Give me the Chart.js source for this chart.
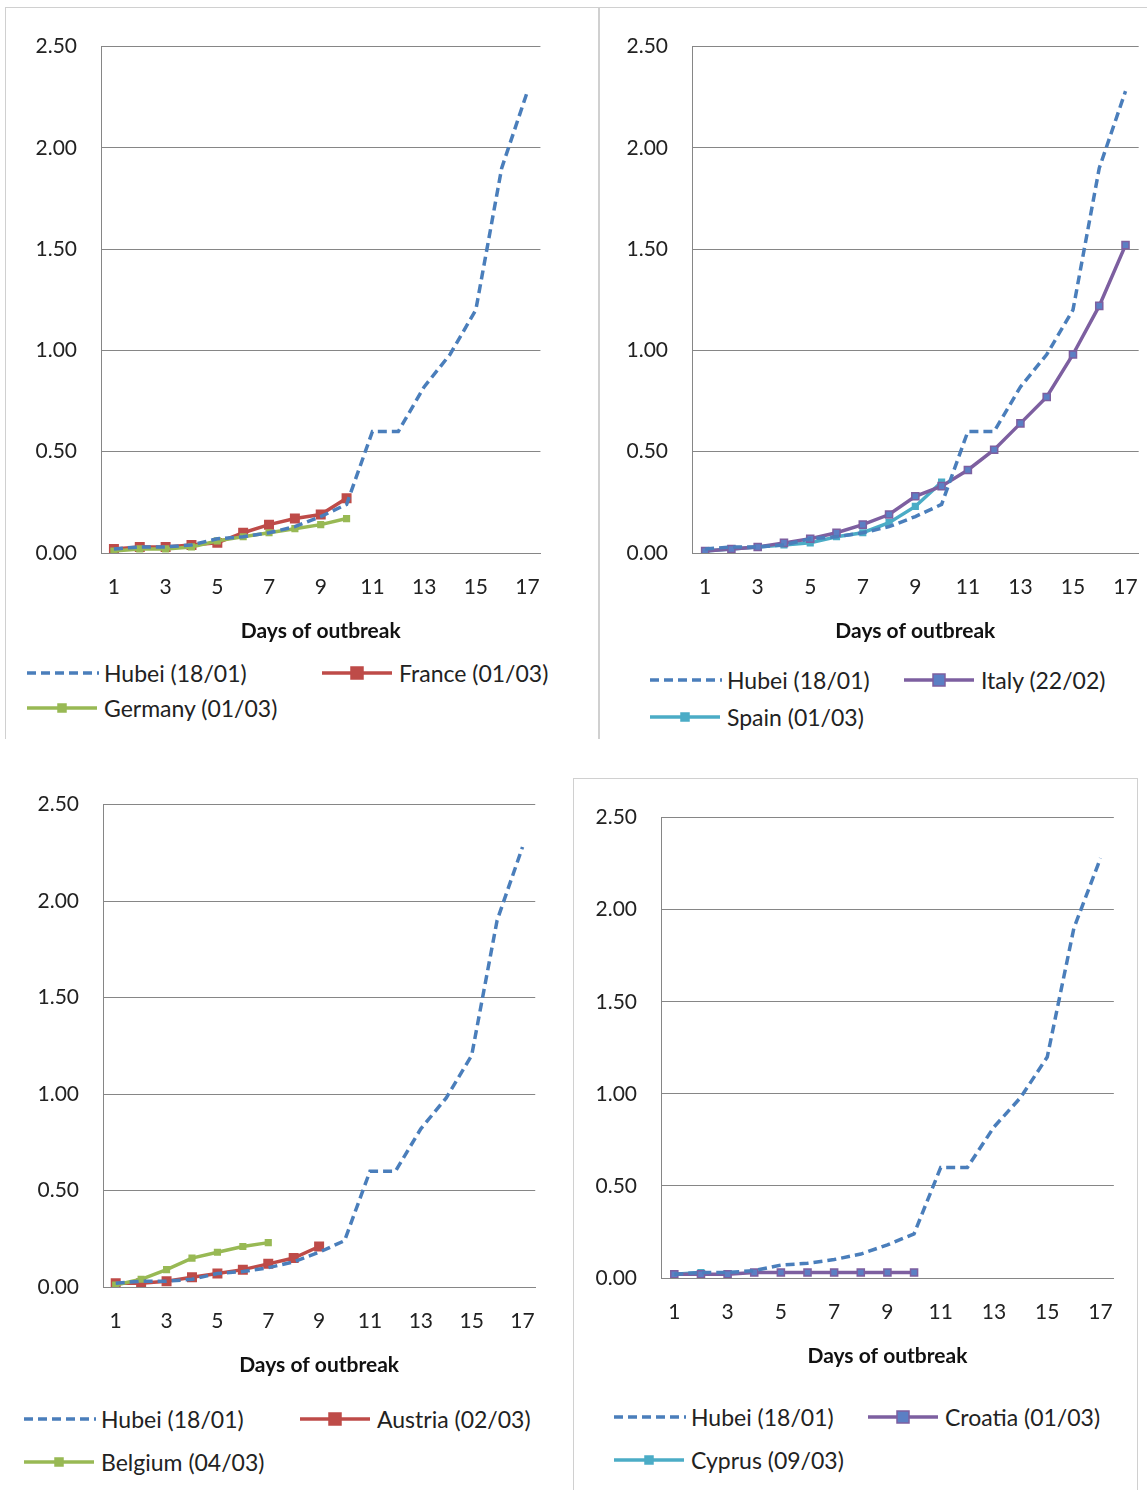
<!DOCTYPE html>
<html><head><meta charset="utf-8">
<script src="https://cdn.jsdelivr.net/npm/chart.js@4"></script>
<style>
body{margin:0;background:#fff;width:1147px;height:1490px;position:relative;overflow:hidden;font-family:Lato,"Open Sans",sans-serif}
canvas{position:absolute}
.leg{position:absolute;font-size:23px;color:#222;white-space:nowrap;line-height:26px}
.leg svg{position:absolute;top:0}
.box{position:absolute;border:1px solid #d0d0d0}
</style></head><body>
<div class="box" style="left:5px;top:7px;width:593px;height:731px;border-bottom:none"></div>
<div class="box" style="left:598px;top:7px;width:549px;height:731px;border-bottom:none;border-right:none"></div>
<div class="box" style="left:573px;top:778px;width:563px;height:712px;border-bottom:none"></div>
<canvas id="c1"></canvas><canvas id="c2"></canvas><canvas id="c3"></canvas><canvas id="c4"></canvas>
<script>
const days = ['1','2','3','4','5','6','7','8','9','10','11','12','13','14','15','16','17'];
const yTicks = [0, 0.5, 1, 1.5, 2, 2.5];
const hubei = [0.02,0.03,0.03,0.04,0.07,0.08,0.10,0.13,0.18,0.24,0.60,0.60,0.82,0.98,1.20,1.90,2.28];
const france = [0.02,0.03,0.03,0.04,0.05,0.10,0.14,0.17,0.19,0.27];
const germany = [0.01,0.02,0.02,0.03,0.06,0.08,0.10,0.12,0.14,0.17];
const italy = [0.01,0.02,0.03,0.05,0.07,0.10,0.14,0.19,0.28,0.33,0.41,0.51,0.64,0.77,0.98,1.22,1.52];
const spain = [0.01,0.02,0.03,0.04,0.05,0.08,0.10,0.15,0.23,0.35];
const austria = [0.02,0.02,0.03,0.05,0.07,0.09,0.12,0.15,0.21];
const belgium = [0.01,0.04,0.09,0.15,0.18,0.21,0.23];
const croatia = [0.02,0.02,0.02,0.03,0.03,0.03,0.03,0.03,0.03,0.03];
const cyprus = [0.02,0.03];

const BLUE = '#4a7ebb', RED = '#be4b48', GREEN = '#98b954', PURPLE = '#7d5fa0', CYAN = '#4bacc6';
const FONT = 'Lato, "Open Sans", sans-serif';

function hubeiSet(){
  return {data: hubei, borderColor: BLUE, borderWidth: 3.5, borderDash: [9, 5], pointRadius: 0, tension: 0};
}
function set(data, color, r, fill){
  return {data: data, borderColor: color, borderWidth: 3.5, pointStyle: 'rect', pointRadius: r,
    pointBackgroundColor: fill || color, pointBorderColor: color, pointBorderWidth: 1.5, tension: 0};
}

function makeChart(id, box, sets){
  // box: plot area left/top/right/bottom in page px
  const el = document.getElementById(id);
  const left = box.l - 80, top = box.t - 34;
  const w = box.r - left + 14, h = box.b - top + 95;
  el.style.left = left + 'px'; el.style.top = top + 'px';
  el.style.width = w + 'px'; el.style.height = h + 'px';
  el.width = w; el.height = h;
  new Chart(el, {
    type: 'line',
    data: {labels: days, datasets: sets},
    options: {
      responsive: false, animation: false,
      layout: {padding: {top: 15, right: 10, left: 0, bottom: 0}},
      plugins: {legend: {display: false}, tooltip: {enabled: false}},
      scales: {
        x: {
          offset: true,
          afterFit: s => { s.height = 95; },
          grid: {display: false},
          border: {color: '#868686', width: 1},
          ticks: {color: '#222', font: {family: FONT, size: 21}, padding: 14, autoSkip: false, maxRotation: 0,
            callback: (v, i) => i % 2 == 0 ? days[i] : ''},
          title: {display: true, text: 'Days of outbreak', color: '#111', font: {family: FONT, size: 21, weight: 'bold'}, padding: {top: 2}}
        },
        y: {
          min: 0, max: 2.5,
          afterFit: s => { s.width = 80; },
          afterBuildTicks: s => { s.ticks = yTicks.map(v => ({value: v})); },
          grid: {color: '#868686', lineWidth: 1, drawTicks: false},
          border: {color: '#868686'},
          ticks: {color: '#222', font: {family: FONT, size: 21}, padding: 24, callback: v => v.toFixed(2)}
        }
      }
    }
  });
}

makeChart('c1', {l: 101, t: 44, r: 540, b: 553}, [hubeiSet(), set(germany, GREEN, 4), set(france, RED, 6)]);
makeChart('c2', {l: 692, t: 44, r: 1138, b: 553}, [hubeiSet(), set(italy, PURPLE, 5, '#5b7fc4'), set(spain, CYAN, 4)]);
makeChart('c3', {l: 103, t: 802, r: 535, b: 1287}, [hubeiSet(), set(belgium, GREEN, 4), set(austria, RED, 6)]);
makeChart('c4', {l: 661, t: 815, r: 1113, b: 1278}, [hubeiSet(), set(croatia, PURPLE, 5, '#5b7fc4'), set(cyprus, CYAN, 4)]);

// html legends
const legends = [
  [25, 660, 'dash', BLUE, 'Hubei (18/01)'], [320, 660, 'sq', RED, 'France (01/03)'], [25, 695, 'sm', GREEN, 'Germany (01/03)'],
  [648, 667, 'dash', BLUE, 'Hubei (18/01)'], [902, 667, 'sqp', PURPLE, 'Italy (22/02)'], [648, 704, 'sm', CYAN, 'Spain (01/03)'],
  [22, 1406, 'dash', BLUE, 'Hubei (18/01)'], [298, 1406, 'sq', RED, 'Austria (02/03)'], [22, 1449, 'sm', GREEN, 'Belgium (04/03)'],
  [612, 1404, 'dash', BLUE, 'Hubei (18/01)'], [866, 1404, 'sqp', PURPLE, 'Croatia (01/03)'], [612, 1447, 'sm', CYAN, 'Cyprus (09/03)']
];
legends.forEach(function(it){
  const d = document.createElement('div');
  d.className = 'leg';
  d.style.left = it[0] + 'px'; d.style.top = it[1] + 'px';
  d.style.paddingLeft = '79px';
  let mark = '';
  if (it[2] == 'dash') mark = '<line x1="2" y1="13" x2="74" y2="13" stroke="' + it[3] + '" stroke-width="3.5" stroke-dasharray="9 5"/>';
  else {
    const s = it[2] == 'sm' ? 8 : 12;
    const fill = it[2] == 'sqp' ? '#5b7fc4' : it[3];
    mark = '<line x1="2" y1="13" x2="72" y2="13" stroke="' + it[3] + '" stroke-width="3.5"/>' +
      '<rect x="' + (37 - s/2) + '" y="' + (13 - s/2) + '" width="' + s + '" height="' + s + '" fill="' + fill + '" stroke="' + it[3] + '" stroke-width="1.5"/>';
  }
  d.innerHTML = '<svg width="76" height="26" style="left:0">' + mark + '</svg>' + it[4];
  document.body.appendChild(d);
});
</script>
</body></html>
